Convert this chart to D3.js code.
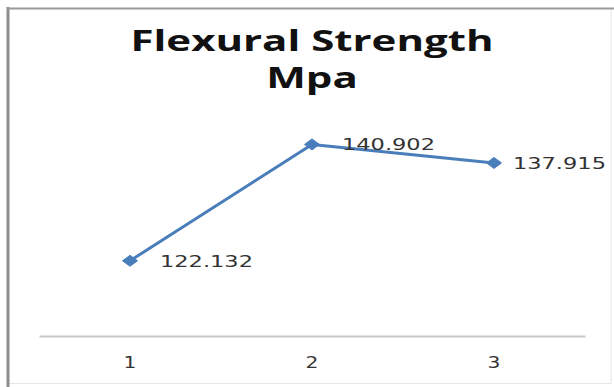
<!DOCTYPE html>
<html>
<head>
<meta charset="utf-8">
<script src="https://cdn.jsdelivr.net/npm/d3@7"></script>
<style>
  html, body { margin: 0; padding: 0; background: #fff; }
  svg { display: block; }
</style>
</head>
<body>
<svg id="chart" width="614" height="387"></svg>
<script>
// Flexural strength (MPa) for the three mixes
const categories = ["1", "2", "3"];
const strength = [122.132, 140.902, 137.915];
const labels = ["122.132", "140.902", "137.915"];

const svg = d3.select("#chart");
const W = 614, H = 387;
const STRETCH = 1.5; // text is drawn wide, as in the exported chart

// Chart frame
svg.append("rect")
  .attr("x", 8).attr("y", 8.5)
  .attr("width", W - 11).attr("height", H - 12)
  .attr("fill", "#fff")
  .attr("stroke", "#e6e6e6").attr("stroke-width", 1);
svg.append("line")
  .attr("x1", 8).attr("x2", 8).attr("y1", 7).attr("y2", H)
  .attr("stroke", "#8c8c8c").attr("stroke-width", 3);
svg.append("line")
  .attr("x1", 7).attr("x2", W).attr("y1", 8.5).attr("y2", 8.5)
  .attr("stroke", "#9a9a9a").attr("stroke-width", 2);

// Title, two lines
const titleLines = [["Flexural Strength", 51], ["Mpa", 88]];
svg.selectAll(".title")
  .data(titleLines)
  .join("text")
  .attr("class", "title")
  .attr("transform", d => `translate(312,${d[1]}) scale(${STRETCH},1)`)
  .attr("text-anchor", "middle")
  .attr("font-family", "'Open Sans', sans-serif")
  .attr("font-weight", "bold")
  .attr("font-size", 28)
  .attr("fill", "#111")
  .text(d => d[0]);

// Scales
const x = d3.scaleBand().domain(categories).range([39, 585]);
const y = d3.scaleLinear().domain([110, 145]).range([336, 119]);
const cx = d => x(d) + x.bandwidth() / 2;

// Category axis
const xAxis = svg.append("g")
  .attr("transform", "translate(0,336)")
  .call(d3.axisBottom(x).tickSize(0).tickPadding(0));
xAxis.select(".domain").attr("stroke", "#c8c8c8").attr("stroke-width", 2);
xAxis.selectAll(".tick text")
  .attr("y", 0).attr("dy", null)
  .attr("transform", `translate(0,32) scale(1.35,1)`)
  .attr("font-family", "'DejaVu Sans', sans-serif")
  .attr("font-size", 15)
  .attr("fill", "#333");

const pts = categories.map((c, i) => ({ c, v: strength[i], label: labels[i] }));

// Series line
svg.append("path")
  .datum(pts)
  .attr("fill", "none")
  .attr("stroke", "#4a7ebb")
  .attr("stroke-width", 3)
  .attr("stroke-linejoin", "round")
  .attr("d", d3.line().x(d => cx(d.c)).y(d => y(d.v)));

// Diamond markers
svg.selectAll(".marker")
  .data(pts)
  .join("path")
  .attr("class", "marker")
  .attr("transform", d => `translate(${cx(d.c)},${y(d.v)})`)
  .attr("d", "M0,-5.5L7.5,0L0,5.5L-7.5,0Z")
  .attr("fill", "#4a7ebb")
  .attr("stroke", "#4a7ebb")
  .attr("stroke-width", 1);

// Value labels, right of each point, kept inside the frame
const values = svg.selectAll(".value")
  .data(pts)
  .join("text")
  .attr("class", "value")
  .attr("font-family", "'DejaVu Sans', sans-serif")
  .attr("font-size", 15)
  .attr("fill", "#333")
  .text(d => d.label);
values.each(function (d) {
  const w = this.getComputedTextLength() * STRETCH;
  const x0 = Math.min(cx(d.c) + 30, W - 8 - w);
  d3.select(this).attr("transform", `translate(${x0},${y(d.v) + 6}) scale(${STRETCH},1)`);
});
</script>
</body>
</html>
